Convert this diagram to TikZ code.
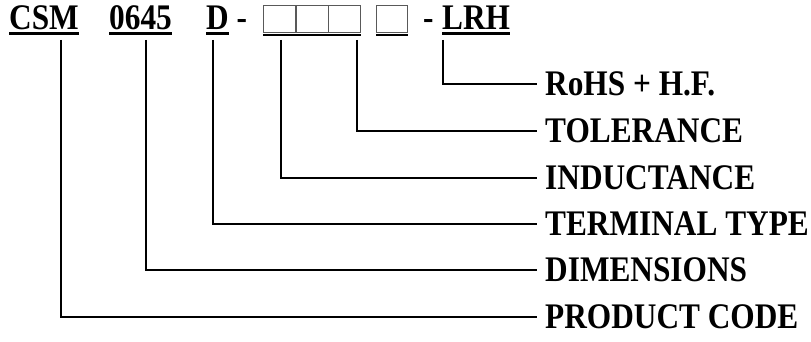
\documentclass[tikz,border=0pt]{standalone}
\usepackage{fontspec}
\setmainfont{Liberation Serif}
\newfontfamily\tallserif[FakeStretch=0.87]{Liberation Serif}
\begin{document}
\begin{tikzpicture}[x=1pt,y=-1pt,
  lbl/.style={font=\tallserif\fontsize{36}{40}\selectfont\bfseries, anchor=west, inner xsep=8pt, inner ysep=0pt, text height=23.6pt, text depth=0pt},
  top/.style={font=\tallserif\fontsize{36}{40}\selectfont\bfseries, anchor=base west, inner sep=0pt},
  uline/.style={line width=2.4pt},
  conn/.style={line width=1.6pt},
  sq/.style={draw=black!65, line width=1.4pt, minimum width=32.3pt, minimum height=27pt, inner sep=0pt, anchor=north west}]
\useasboundingbox (0,0) rectangle (811,342);
% top code
\node[top] (csm) at (9,29.5) {CSM};
\node[top] (dim) at (109,29.5) {0645};
\node[top] (term) at (206,29.5) {D};
\node[top] (dash1) at (236.5,29.5) {-};
\node[sq] (b1) at (263,5) {};
\node[sq] (b2) at (295.3,5) {};
\node[sq] (b3) at (327.6,5) {};
\node[sq, minimum width=31pt] (b4) at (376,5) {};
\node[top] (dash2) at (423,29.5) {-};
\node[top] (lrh) at (442,29.5) {LRH};
% underlines
\draw[uline] ([yshift=-4pt]csm.base west) -- ([yshift=-4pt]csm.base east);
\draw[uline] ([yshift=-4pt]dim.base west) -- ([yshift=-4pt]dim.base east);
\draw[uline] ([yshift=-4pt]term.base west) -- ([yshift=-4pt]term.base east);
\draw[uline] ([yshift=-1.5pt]b1.south west) -- ([yshift=-1.5pt]b3.south east);
\draw[uline] ([yshift=-1.5pt]b4.south west) -- ([yshift=-1.5pt]b4.south east);
\draw[uline] ([yshift=-4pt]lrh.base west) -- ([yshift=-4pt]lrh.base east);
% tick tops
\coordinate (tcsm) at (61,40);
\coordinate (tdim) at (146,40);
\coordinate (tterm) at (213,40);
\coordinate (tind) at (281,40);
\coordinate (ttol) at (357,40);
\coordinate (tlrh) at (443,40);
% labels
\node[lbl] (lrohs) at (537,84) {RoHS + H.F.};
\node[lbl] (ltol) at (537,131) {TOLERANCE};
\node[lbl] (lind) at (537,178) {INDUCTANCE};
\node[lbl] (lterm) at (537,224) {TERMINAL TYPE};
\node[lbl] (ldim) at (537,270) {DIMENSIONS};
\node[lbl] (lprod) at (537,317) {PRODUCT CODE};
% connectors
\draw[conn] (tlrh) |- (lrohs.west);
\draw[conn] (ttol) |- (ltol.west);
\draw[conn] (tind) |- (lind.west);
\draw[conn] (tterm) |- (lterm.west);
\draw[conn] (tdim) |- (ldim.west);
\draw[conn] (tcsm) |- (lprod.west);
\end{tikzpicture}
\end{document}
